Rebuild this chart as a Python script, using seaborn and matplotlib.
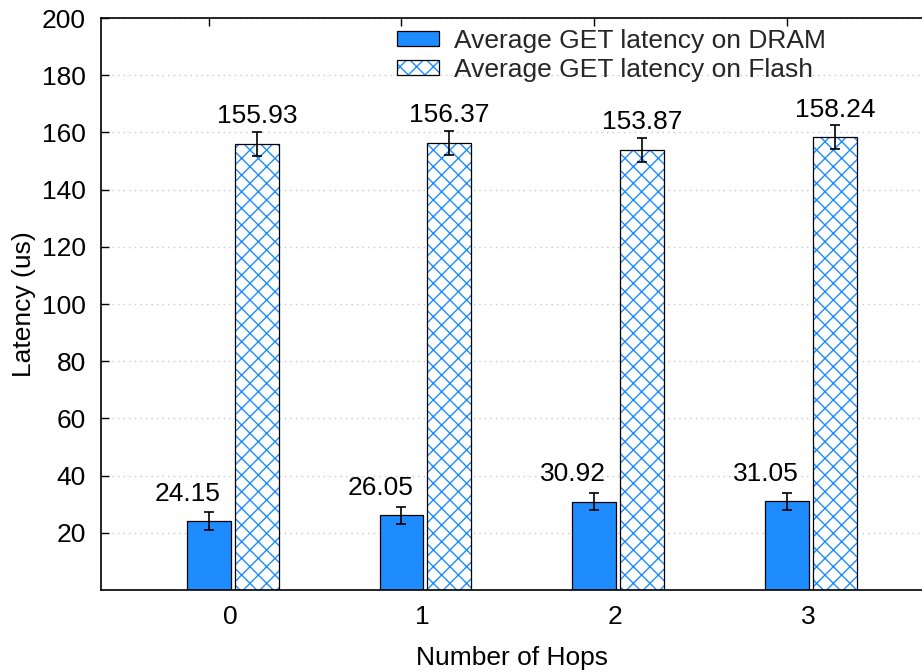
import numpy as np
import pandas as pd
import matplotlib
matplotlib.use("Agg")
import matplotlib.pyplot as plt
import seaborn as sns
from matplotlib.patches import Patch, Rectangle

hops = ["0", "1", "2", "3"]
dram_latency = [24.15, 26.05, 30.92, 31.05]
flash_latency = [155.93, 156.37, 153.87, 158.24]
dram_err = [3.0, 3.0, 3.1, 3.0]
flash_err = [4.1, 4.2, 4.2, 4.2]
series = ["Average GET latency on DRAM", "Average GET latency on Flash"]
yticks = [20, 40, 60, 80, 100, 120, 140, 160, 180, 200]

sns.set_theme(style="ticks")
plt.rcParams["font.family"] = ["Liberation Sans", "DejaVu Sans"]
plt.rcParams["hatch.linewidth"] = 1.0

FS = 19

df = pd.DataFrame({
    "hops": hops * 2,
    "latency": dram_latency + flash_latency,
    "kind": [series[0]] * 4 + [series[1]] * 4,
})

BLUE = "#1E8CFF"
fig = plt.figure(figsize=(9.22, 6.72), dpi=100)
ax = fig.add_axes([101 / 922, 82 / 672, 1 - 101 / 922, 572 / 672])

sns.barplot(data=df, x="hops", y="latency", hue="kind", hue_order=series,
            palette=[BLUE, "white"], saturation=1, width=0.498, gap=0.084,
            errorbar=None, legend=False, ax=ax, zorder=2)

dram_c, flash_c = ax.containers[0], ax.containers[1]
for p in dram_c:
    p.set_facecolor(BLUE)
    p.set_edgecolor("black")
    p.set_linewidth(0.9)
for p in flash_c:
    p.set_facecolor("white")
    p.set_edgecolor(BLUE)
    p.set_hatch("xx")
    p.set_linewidth(0)
    ax.add_patch(Rectangle(p.get_xy(), p.get_width(), p.get_height(),
                           fill=False, edgecolor="black", linewidth=0.9, zorder=3))

dram_x = [p.get_x() + p.get_width() / 2 for p in dram_c]
flash_x = [p.get_x() + p.get_width() / 2 for p in flash_c]

ax.errorbar(dram_x, dram_latency, yerr=dram_err, fmt="none", ecolor="black",
            elinewidth=1.2, capsize=3.5, capthick=1.2, zorder=4)
ax.errorbar(flash_x, flash_latency, yerr=flash_err, fmt="none", ecolor="black",
            elinewidth=1.2, capsize=3.5, capthick=1.2, zorder=4)

for x, v in zip(dram_x, dram_latency):
    ax.annotate(f"{v:.2f}", (x, v), xytext=(-15, 19.5), textcoords="offset points",
                ha="center", va="center", fontsize=FS, color="black")
for x, v in zip(flash_x, flash_latency):
    ax.annotate(f"{v:.2f}", (x, v), xytext=(0, 20), textcoords="offset points",
                ha="center", va="center", fontsize=FS, color="black")

ax.set_xlim(-0.684, 3.577)
ax.set_ylim(0, 200)
ax.set_yticks(yticks)
ax.set_yticklabels([str(t) for t in yticks])
ax.set_xticks([i - 0.014 for i in range(4)])
ax.set_xticklabels(hops)
ax.tick_params(axis="x", length=0, pad=11, labelsize=FS, colors="black")
ax.tick_params(axis="y", direction="in", length=6, width=1, pad=11, labelsize=FS, colors="black")

sec = ax.secondary_xaxis("top")
sec.set_xticks(dram_x)
sec.set_xticklabels([])
sec.tick_params(direction="in", length=6, width=1, color="black")
sec.spines["top"].set_visible(False)

ax.yaxis.grid(True, color="#c8c8c8", linestyle=(0, (1, 3)), linewidth=1.0, zorder=0)
ax.set_axisbelow(True)

for s in ["left", "bottom", "top"]:
    ax.spines[s].set_color("black")
    ax.spines[s].set_linewidth(1.2)
    ax.spines[s].set_visible(True)
ax.spines["right"].set_visible(False)

ax.set_xlabel("Number of Hops", fontsize=FS, color="black", labelpad=12)
ax.set_ylabel("Latency (us)", fontsize=FS, color="black", labelpad=4)

h1 = Patch(facecolor=BLUE, edgecolor="black", linewidth=0.9)
h2a = Patch(facecolor="white", edgecolor=BLUE, hatch="xx", linewidth=0)
h2b = Patch(facecolor="none", edgecolor="black", linewidth=0.9)
leg = fig.legend([h1, (h2a, h2b)], series, loc="upper left",
                 bbox_to_anchor=(397 / 922, 1 - 29 / 672), frameon=False,
                 fontsize=FS, borderpad=0, borderaxespad=0, handlelength=1.6,
                 handleheight=0.5, handletextpad=0.55, labelspacing=0.2)

fig.savefig("out.png", dpi=100)
